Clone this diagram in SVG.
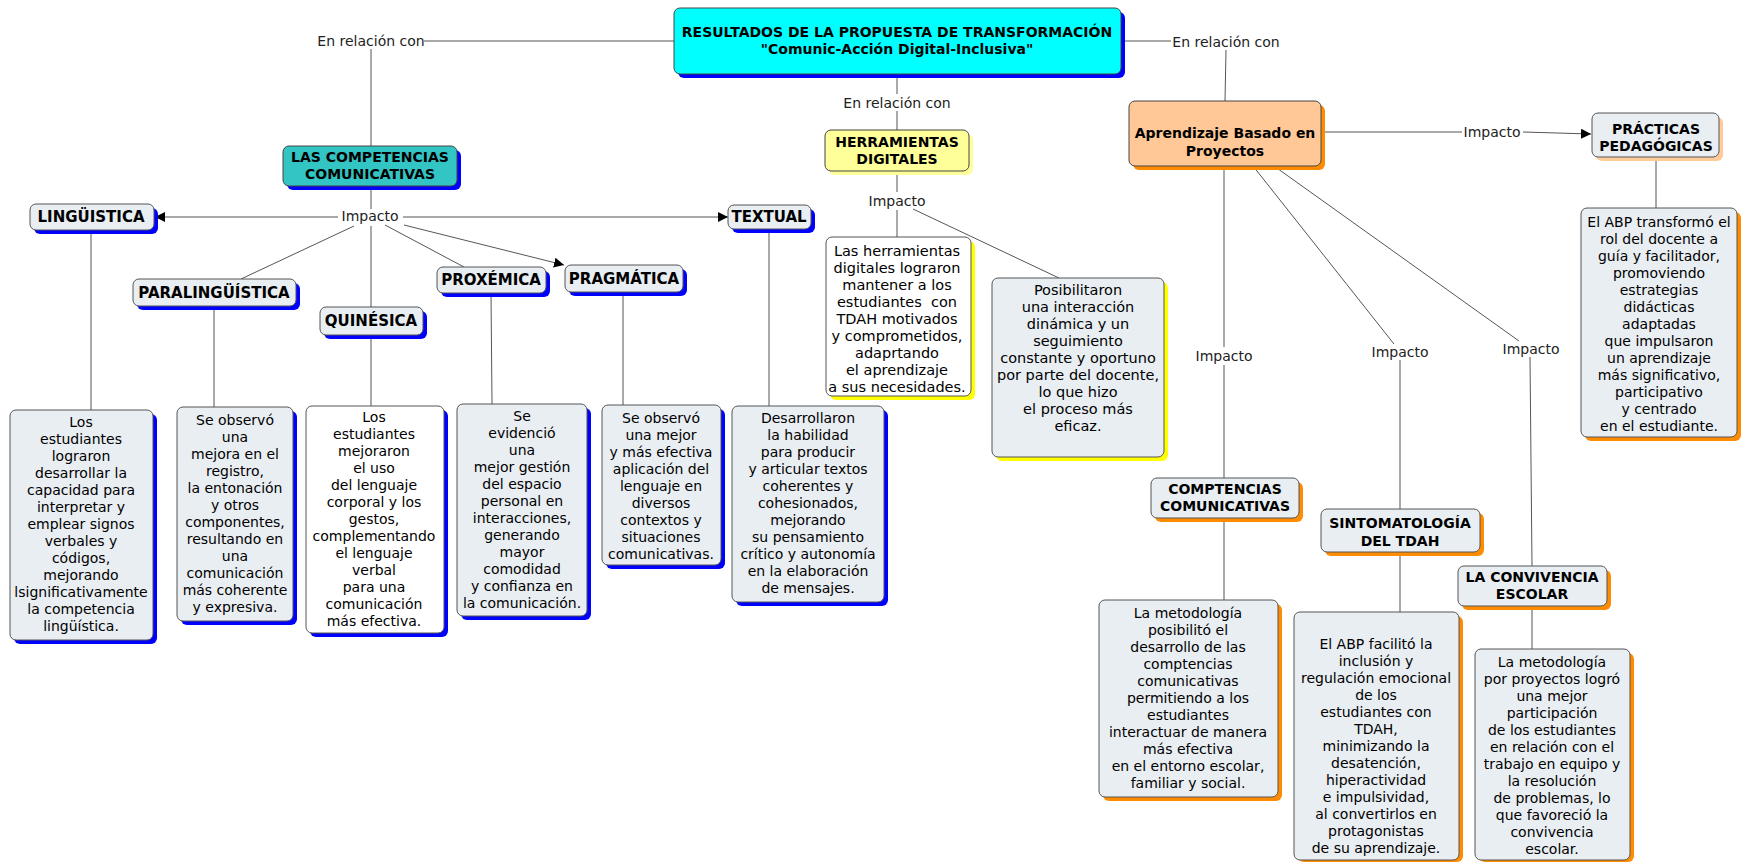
<svg xmlns="http://www.w3.org/2000/svg" width="1743" height="863" viewBox="0 0 1743 863">
  <style>
    text { font-family: "DejaVu Sans", Verdana, sans-serif; font-size: 14px; text-anchor: middle; fill: #000; dominant-baseline: central; }
    .hd { font-weight: bold; }
    .hd1 { font-weight: bold; font-size: 15px; }
    .vw { font-size: 14.5px; }
    .lbl { fill: #222; }
    .box { fill: #E9EEF3; stroke: #555; stroke-width: 1; }
    .wbox { fill: #FFFFFF; stroke: #555; stroke-width: 1; }
    .sh-b { fill: #0000FF; }
    .sh-y { fill: #FFFF00; }
    .sh-ly { fill: #FFFF99; }
    .sh-o { fill: #FF8C00; }
    .sh-lo { fill: #FFCC99; }
    .ln { stroke: #555; stroke-width: 1; fill: none; }
    .ar { stroke: #555; stroke-width: 1; fill: none; marker-end: url(#arr); }
  </style>
  <defs>
    <marker id="arr" viewBox="0 0 10 10" refX="10" refY="5" markerWidth="10" markerHeight="10" markerUnits="userSpaceOnUse" orient="auto">
      <path d="M0,0 L10,5 L0,10 z" fill="#000"/>
    </marker>
  </defs>
  <rect width="1743" height="863" fill="#FFFFFF"/>

  <!-- connectors and linking phrases -->
  <g id="connectors">
    <line class="ln" x1="674" y1="41" x2="424" y2="41"/>
    <line class="ln" x1="371" y1="49" x2="371" y2="146"/>
    <line class="ln" x1="371" y1="186" x2="371" y2="209"/>
    <line class="ar" x1="338" y1="217" x2="155" y2="217"/>
    <line class="ar" x1="403" y1="217" x2="728" y2="217"/>
    <line class="ln" x1="354" y1="226" x2="241" y2="279"/>
    <line class="ln" x1="371" y1="226" x2="371" y2="307"/>
    <line class="ln" x1="385" y1="225" x2="464" y2="267"/>
    <line class="ar" x1="404" y1="225" x2="564" y2="265"/>
    <line class="ln" x1="91" y1="230" x2="91" y2="410"/>
    <line class="ln" x1="214" y1="306" x2="214" y2="407"/>
    <line class="ln" x1="371" y1="335" x2="371" y2="406"/>
    <line class="ln" x1="491" y1="293" x2="492" y2="404"/>
    <line class="ln" x1="623" y1="292" x2="623" y2="405"/>
    <line class="ln" x1="769" y1="229" x2="769" y2="406"/>
    <line class="ln" x1="897" y1="74" x2="897" y2="94"/>
    <line class="ln" x1="897" y1="111" x2="897" y2="130"/>
    <line class="ln" x1="897" y1="171" x2="897" y2="192"/>
    <line class="ln" x1="897" y1="210" x2="897" y2="237"/>
    <line class="ln" x1="913" y1="209" x2="1059" y2="278"/>
    <line class="ln" x1="1121" y1="41" x2="1171" y2="41"/>
    <line class="ln" x1="1226" y1="50" x2="1225" y2="101"/>
    <line class="ln" x1="1321" y1="132" x2="1462" y2="132"/>
    <line class="ar" x1="1523" y1="132" x2="1591" y2="134"/>
    <line class="ln" x1="1656" y1="157" x2="1656" y2="208"/>
    <line class="ln" x1="1224" y1="166" x2="1224" y2="347"/>
    <line class="ln" x1="1224" y1="365" x2="1224" y2="478"/>
    <line class="ln" x1="1224" y1="518" x2="1224" y2="600"/>
    <line class="ln" x1="1253" y1="166" x2="1394" y2="344"/>
    <line class="ln" x1="1400" y1="360" x2="1400" y2="509"/>
    <line class="ln" x1="1400" y1="552" x2="1400" y2="612"/>
    <line class="ln" x1="1274" y1="166" x2="1519" y2="341"/>
    <line class="ln" x1="1530" y1="357" x2="1532" y2="566"/>
    <line class="ln" x1="1532" y1="606" x2="1532" y2="649"/>

    <text class="lbl" x="371" y="41">En relación con</text>
    <text class="lbl" x="370" y="216">Impacto</text>
    <text class="lbl" x="897" y="103">En relación con</text>
    <text class="lbl" x="897" y="201">Impacto</text>
    <text class="lbl" x="1226" y="42">En relación con</text>
    <text class="lbl" x="1492" y="132">Impacto</text>
    <text class="lbl" x="1224" y="356">Impacto</text>
    <text class="lbl" x="1400" y="352">Impacto</text>
    <text class="lbl" x="1531" y="349">Impacto</text>
  </g>

  <!-- central topic -->
  <g id="central">
    <rect class="sh-b" x="678" y="12" width="447" height="66" rx="6"/>
    <rect x="674" y="8" width="447" height="66" rx="6" fill="#00FFFF" stroke="#444"/>
    <text class="hd" x="897" y="32">RESULTADOS DE LA PROPUESTA DE TRANSFORMACIÓN</text>
    <text class="hd" x="897" y="49">"Comunic-Acción Digital-Inclusiva"</text>
  </g>

  <!-- communicative competences branch -->
  <g id="competencias">
    <rect class="sh-b" x="287" y="150" width="174" height="40" rx="6"/>
    <rect x="283" y="146" width="174" height="40" rx="6" fill="#33C4C4" stroke="#444"/>
    <text class="hd" x="370" y="157">LAS COMPETENCIAS</text>
    <text class="hd" x="370" y="174">COMUNICATIVAS</text>
  </g>
  <g id="linguistica">
    <rect class="sh-b" x="34" y="208" width="124" height="26" rx="6"/>
    <rect class="box" x="30" y="204" width="124" height="26" rx="6"/>
    <text class="hd1" x="91" y="217">LINGÜISTICA</text>
  </g>
  <g id="paralinguistica">
    <rect class="sh-b" x="137" y="283" width="163" height="27" rx="6"/>
    <rect class="box" x="133" y="279" width="163" height="27" rx="6"/>
    <text class="hd1" x="214" y="292.5">PARALINGÜÍSTICA</text>
  </g>
  <g id="quinesica">
    <rect class="sh-b" x="324" y="311" width="103" height="28" rx="6"/>
    <rect class="box" x="320" y="307" width="103" height="28" rx="6"/>
    <text class="hd1" x="371" y="321">QUINÉSICA</text>
  </g>
  <g id="proxemica">
    <rect class="sh-b" x="441" y="271" width="109" height="26" rx="6"/>
    <rect class="box" x="437" y="267" width="109" height="26" rx="6"/>
    <text class="hd1" x="491" y="280">PROXÉMICA</text>
  </g>
  <g id="pragmatica">
    <rect class="sh-b" x="569" y="269" width="118" height="27" rx="6"/>
    <rect class="box" x="565" y="265" width="118" height="27" rx="6"/>
    <text class="hd1" x="624" y="278.5">PRAGMÁTICA</text>
  </g>
  <g id="textual">
    <rect class="sh-b" x="732" y="209" width="83" height="24" rx="6"/>
    <rect class="box" x="728" y="205" width="83" height="24" rx="6"/>
    <text class="hd1" x="769" y="217">TEXTUAL</text>
  </g>

  <g id="linguistica-desc">
    <rect class="sh-b" x="14" y="414" width="143" height="230" rx="6"/>
    <rect class="box" x="10" y="410" width="143" height="230" rx="6"/>
    <text x="81" y="422">Los</text>
    <text x="81" y="439">estudiantes</text>
    <text x="81" y="456">lograron</text>
    <text x="81" y="473">desarrollar la</text>
    <text x="81" y="490">capacidad para</text>
    <text x="81" y="507">interpretar y</text>
    <text x="81" y="524">emplear signos</text>
    <text x="81" y="541">verbales y</text>
    <text x="81" y="558">códigos,</text>
    <text x="81" y="575">mejorando</text>
    <text x="81" y="592">lsignificativamente</text>
    <text x="81" y="609">la competencia</text>
    <text x="81" y="626">lingüística.</text>
  </g>
  <g id="paralinguistica-desc">
    <rect class="sh-b" x="181" y="411" width="116" height="214" rx="6"/>
    <rect class="box" x="177" y="407" width="116" height="214" rx="6"/>
    <text x="235" y="420">Se observó</text>
    <text x="235" y="437">una</text>
    <text x="235" y="454">mejora en el</text>
    <text x="235" y="471">registro,</text>
    <text x="235" y="488">la entonación</text>
    <text x="235" y="505">y otros</text>
    <text x="235" y="522">componentes,</text>
    <text x="235" y="539">resultando en</text>
    <text x="235" y="556">una</text>
    <text x="235" y="573">comunicación</text>
    <text x="235" y="590">más coherente</text>
    <text x="235" y="607">y expresiva.</text>
  </g>
  <g id="quinesica-desc">
    <rect class="sh-b" x="310" y="410" width="138" height="227" rx="6"/>
    <rect class="wbox" x="306" y="406" width="138" height="227" rx="6"/>
    <text x="374" y="417">Los</text>
    <text x="374" y="434">estudiantes</text>
    <text x="374" y="451">mejoraron</text>
    <text x="374" y="468">el uso</text>
    <text x="374" y="485">del lenguaje</text>
    <text x="374" y="502">corporal y los</text>
    <text x="374" y="519">gestos,</text>
    <text x="374" y="536">complementando</text>
    <text x="374" y="553">el lenguaje</text>
    <text x="374" y="570">verbal</text>
    <text x="374" y="587">para una</text>
    <text x="374" y="604">comunicación</text>
    <text x="374" y="621">más efectiva.</text>
  </g>
  <g id="proxemica-desc">
    <rect class="sh-b" x="461" y="408" width="130" height="212" rx="6"/>
    <rect class="box" x="457" y="404" width="130" height="212" rx="6"/>
    <text x="522" y="416">Se</text>
    <text x="522" y="433">evidenció</text>
    <text x="522" y="450">una</text>
    <text x="522" y="467">mejor gestión</text>
    <text x="522" y="484">del espacio</text>
    <text x="522" y="501">personal en</text>
    <text x="522" y="518">interacciones,</text>
    <text x="522" y="535">generando</text>
    <text x="522" y="552">mayor</text>
    <text x="522" y="569">comodidad</text>
    <text x="522" y="586">y confianza en</text>
    <text x="522" y="603">la comunicación.</text>
  </g>
  <g id="pragmatica-desc">
    <rect class="sh-b" x="606" y="409" width="119" height="160" rx="6"/>
    <rect class="box" x="602" y="405" width="119" height="160" rx="6"/>
    <text x="661" y="418">Se observó</text>
    <text x="661" y="435">una mejor</text>
    <text x="661" y="452">y más efectiva</text>
    <text x="661" y="469">aplicación del</text>
    <text x="661" y="486">lenguaje en</text>
    <text x="661" y="503">diversos</text>
    <text x="661" y="520">contextos y</text>
    <text x="661" y="537">situaciones</text>
    <text x="661" y="554">comunicativas.</text>
  </g>
  <g id="textual-desc">
    <rect class="sh-b" x="736" y="410" width="152" height="196" rx="6"/>
    <rect class="box" x="732" y="406" width="152" height="196" rx="6"/>
    <text x="808" y="418">Desarrollaron</text>
    <text x="808" y="435">la habilidad</text>
    <text x="808" y="452">para producir</text>
    <text x="808" y="469">y articular textos</text>
    <text x="808" y="486">coherentes y</text>
    <text x="808" y="503">cohesionados,</text>
    <text x="808" y="520">mejorando</text>
    <text x="808" y="537">su pensamiento</text>
    <text x="808" y="554">crítico y autonomía</text>
    <text x="808" y="571">en la elaboración</text>
    <text x="808" y="588">de mensajes.</text>
  </g>

  <!-- digital tools branch -->
  <g id="herramientas">
    <rect class="sh-ly" x="829" y="134" width="144" height="41" rx="6"/>
    <rect x="825" y="130" width="144" height="41" rx="6" fill="#FFFF99" stroke="#444"/>
    <text class="hd" x="897" y="142">HERRAMIENTAS</text>
    <text class="hd" x="897" y="159">DIGITALES</text>
  </g>
  <g id="herramientas-desc1">
    <rect class="sh-y" x="830" y="241" width="145" height="159" rx="6"/>
    <rect class="wbox" x="826" y="237" width="145" height="159" rx="6"/>
    <text class="vw" x="897" y="251">Las herramientas</text>
    <text class="vw" x="897" y="268">digitales lograron</text>
    <text class="vw" x="897" y="285">mantener a los</text>
    <text class="vw" x="897" y="302" xml:space="preserve">estudiantes  con</text>
    <text class="vw" x="897" y="319">TDAH motivados</text>
    <text class="vw" x="897" y="336">y comprometidos,</text>
    <text class="vw" x="897" y="353">adaprtando</text>
    <text class="vw" x="897" y="370">el aprendizaje</text>
    <text class="vw" x="897" y="387">a sus necesidades.</text>
  </g>
  <g id="herramientas-desc2">
    <rect class="sh-y" x="996" y="282" width="172" height="179" rx="6"/>
    <rect class="box" x="992" y="278" width="172" height="179" rx="6"/>
    <text class="vw" x="1078" y="290">Posibilitaron</text>
    <text class="vw" x="1078" y="307">una interacción</text>
    <text class="vw" x="1078" y="324">dinámica y un</text>
    <text class="vw" x="1078" y="341">seguimiento</text>
    <text class="vw" x="1078" y="358">constante y oportuno</text>
    <text class="vw" x="1078" y="375">por parte del docente,</text>
    <text class="vw" x="1078" y="392">lo que hizo</text>
    <text class="vw" x="1078" y="409">el proceso más</text>
    <text class="vw" x="1078" y="426">eficaz.</text>
  </g>

  <!-- project based learning branch -->
  <g id="abp">
    <rect class="sh-o" x="1133" y="105" width="192" height="65" rx="6"/>
    <rect x="1129" y="101" width="192" height="65" rx="6" fill="#FFC896" stroke="#444"/>
    <text class="hd" x="1225" y="133">Aprendizaje Basado en</text>
    <text class="hd" x="1225" y="151">Proyectos</text>
  </g>
  <g id="practicas">
    <rect class="sh-lo" x="1596" y="117" width="127" height="44" rx="6"/>
    <rect class="box" x="1592" y="113" width="127" height="44" rx="6"/>
    <text class="hd" x="1656" y="129">PRÁCTICAS</text>
    <text class="hd" x="1656" y="146">PEDAGÓGICAS</text>
  </g>
  <g id="practicas-desc">
    <rect class="sh-o" x="1585" y="212" width="156" height="229" rx="6"/>
    <rect class="box" x="1581" y="208" width="156" height="229" rx="6"/>
    <text x="1659" y="222">El ABP transformó el</text>
    <text x="1659" y="239">rol del docente a</text>
    <text x="1659" y="256">guía y facilitador,</text>
    <text x="1659" y="273">promoviendo</text>
    <text x="1659" y="290">estrategias</text>
    <text x="1659" y="307">didácticas</text>
    <text x="1659" y="324">adaptadas</text>
    <text x="1659" y="341">que impulsaron</text>
    <text x="1659" y="358">un aprendizaje</text>
    <text x="1659" y="375">más significativo,</text>
    <text x="1659" y="392">participativo</text>
    <text x="1659" y="409">y centrado</text>
    <text x="1659" y="426">en el estudiante.</text>
  </g>
  <g id="comptencias">
    <rect class="sh-o" x="1155" y="482" width="148" height="40" rx="6"/>
    <rect class="box" x="1151" y="478" width="148" height="40" rx="6"/>
    <text class="hd" x="1225" y="489">COMPTENCIAS</text>
    <text class="hd" x="1225" y="506">COMUNICATIVAS</text>
  </g>
  <g id="comptencias-desc">
    <rect class="sh-o" x="1103" y="604" width="179" height="197" rx="6"/>
    <rect class="box" x="1099" y="600" width="179" height="197" rx="6"/>
    <text x="1188" y="613">La metodología</text>
    <text x="1188" y="630">posibilitó el</text>
    <text x="1188" y="647">desarrollo de las</text>
    <text x="1188" y="664">comptencias</text>
    <text x="1188" y="681">comunicativas</text>
    <text x="1188" y="698">permitiendo a los</text>
    <text x="1188" y="715">estudiantes</text>
    <text x="1188" y="732">interactuar de manera</text>
    <text x="1188" y="749">más efectiva</text>
    <text x="1188" y="766">en el entorno escolar,</text>
    <text x="1188" y="783">familiar y social.</text>
  </g>
  <g id="sintomatologia">
    <rect class="sh-o" x="1325" y="513" width="159" height="43" rx="6"/>
    <rect class="box" x="1321" y="509" width="159" height="43" rx="6"/>
    <text class="hd" x="1400" y="523">SINTOMATOLOGÍA</text>
    <text class="hd" x="1400" y="541">DEL TDAH</text>
  </g>
  <g id="sintomatologia-desc">
    <rect class="sh-o" x="1298" y="616" width="165" height="246" rx="6"/>
    <rect class="box" x="1294" y="612" width="165" height="248" rx="6"/>
    <text x="1376" y="644">El ABP facilitó la</text>
    <text x="1376" y="661">inclusión y</text>
    <text x="1376" y="678">regulación emocional</text>
    <text x="1376" y="695">de los</text>
    <text x="1376" y="712">estudiantes con</text>
    <text x="1376" y="729">TDAH,</text>
    <text x="1376" y="746">minimizando la</text>
    <text x="1376" y="763">desatención,</text>
    <text x="1376" y="780">hiperactividad</text>
    <text x="1376" y="797">e impulsividad,</text>
    <text x="1376" y="814">al convertirlos en</text>
    <text x="1376" y="831">protagonistas</text>
    <text x="1376" y="848">de su aprendizaje.</text>
  </g>
  <g id="convivencia">
    <rect class="sh-o" x="1462" y="570" width="149" height="40" rx="6"/>
    <rect class="box" x="1458" y="566" width="149" height="40" rx="6"/>
    <text class="hd" x="1532" y="577">LA CONVIVENCIA</text>
    <text class="hd" x="1532" y="594">ESCOLAR</text>
  </g>
  <g id="convivencia-desc">
    <rect class="sh-o" x="1479" y="653" width="155" height="209" rx="6"/>
    <rect class="box" x="1475" y="649" width="155" height="211" rx="6"/>
    <text x="1552" y="662">La metodología</text>
    <text x="1552" y="679">por proyectos logró</text>
    <text x="1552" y="696">una mejor</text>
    <text x="1552" y="713">participación</text>
    <text x="1552" y="730">de los estudiantes</text>
    <text x="1552" y="747">en relación con el</text>
    <text x="1552" y="764">trabajo en equipo y</text>
    <text x="1552" y="781">la resolución</text>
    <text x="1552" y="798">de problemas, lo</text>
    <text x="1552" y="815">que favoreció la</text>
    <text x="1552" y="832">convivencia</text>
    <text x="1552" y="849">escolar.</text>
  </g>
</svg>
